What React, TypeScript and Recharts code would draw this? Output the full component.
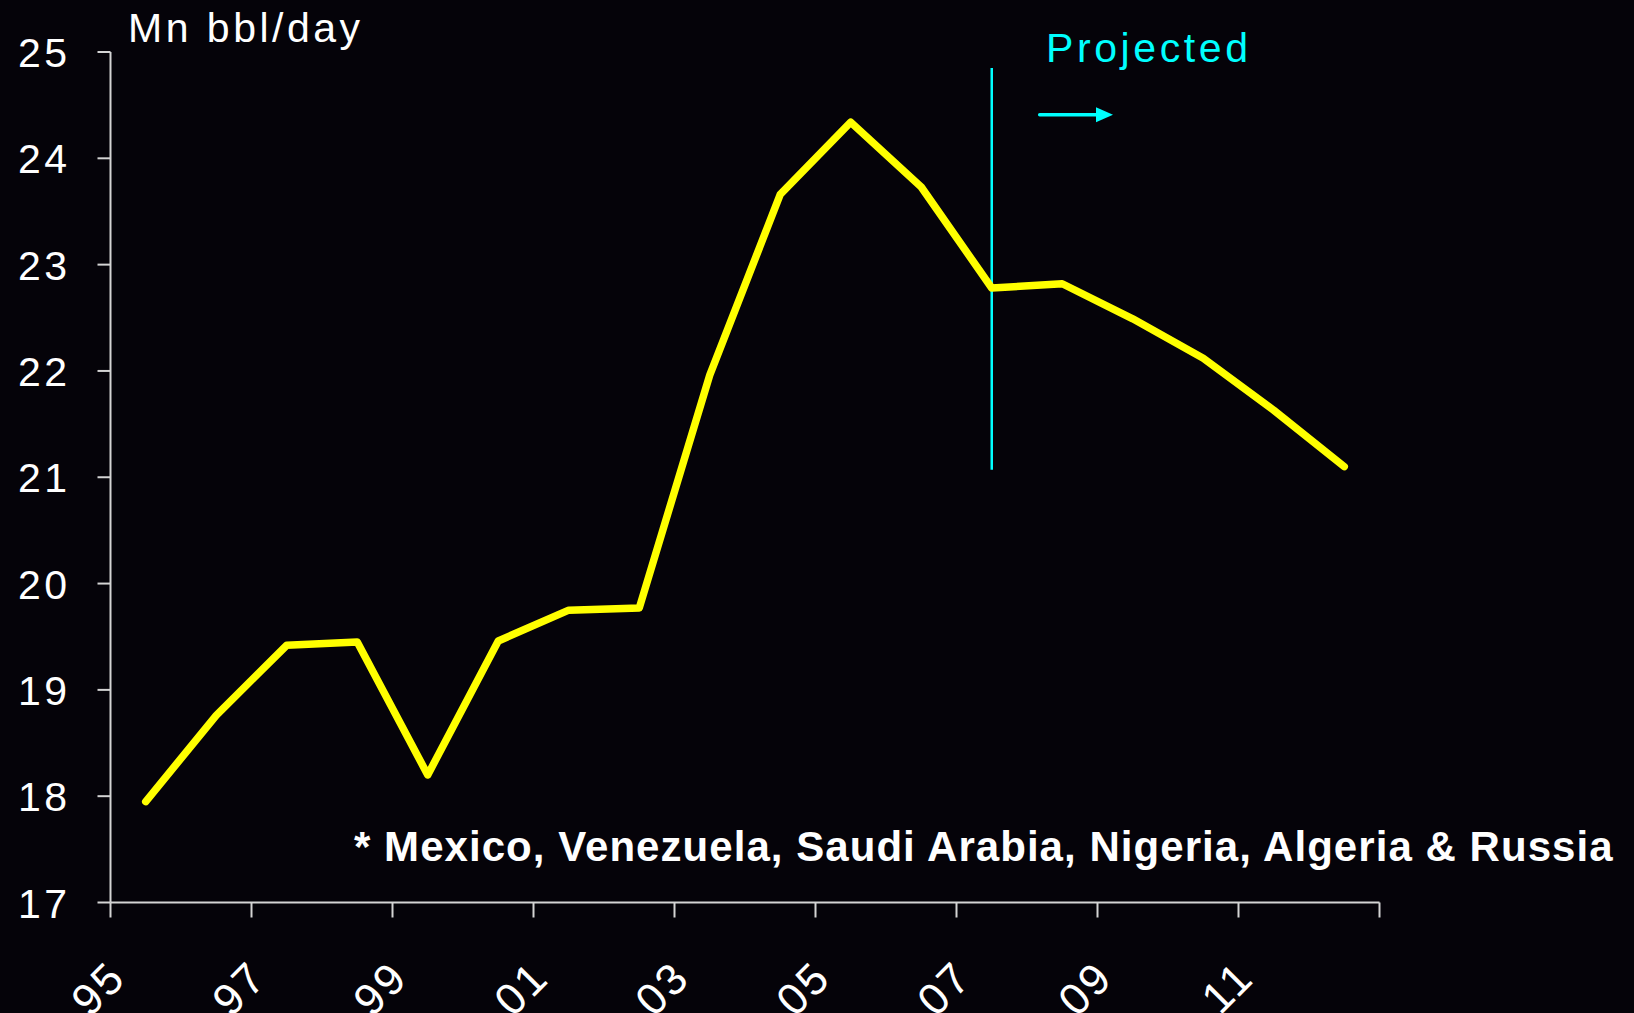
import React from 'react';
import { LineChart, Line, XAxis, YAxis, ReferenceLine } from 'recharts';

const years = ['95', '96', '97', '98', '99', '00', '01', '02', '03', '04', '05', '06', '07', '08', '09', '10', '11', '12'];
const supply = [17.95, 18.76, 19.42, 19.45, 18.2, 19.46, 19.75, 19.77, 21.96, 23.66, 24.34, 23.73, 22.78, 22.82, 22.49, 22.12, 21.63, 21.1];
const xTickLabels = ['95', '97', '99', '01', '03', '05', '07', '09', '11', ''];
const xTickPositions = [0, 2, 4, 6, 8, 10, 12, 14, 16, 18];
const yTicks = [17, 18, 19, 20, 21, 22, 23, 24, 25];

const projectionX = 12.5;
const projectionRange = [21.07, 24.85];
const arrowRange = [13.18, 14.22];
const arrowY = 24.41;

const data = years.map((y, i) => ({ x: i + 0.5, year: y, value: supply[i] }));

const BG = '#050309';
const FONT = '"Liberation Sans", Arial, sans-serif';
const AXIS = '#d4d4d4';

const YTick = (props: any) => {
  const { x, y, payload } = props;
  return (
    <text x={x + 3} y={y} dy={15} textAnchor="end" fill="#ffffff" fontFamily={FONT} fontSize={41} letterSpacing={3.5}>
      {payload.value}
    </text>
  );
};

const XTick = (props: any) => {
  const { x, y, payload } = props;
  const label = xTickLabels[Math.round(payload.value / 2)];
  const ax = x + 18;
  const ay = y + 62;
  return (
    <text x={ax} y={ay} textAnchor="end" fill="#ffffff" fontFamily={FONT} fontSize={44} letterSpacing={3}
      transform={`rotate(-45, ${ax}, ${ay})`}>
      {label}
    </text>
  );
};

const Arrow = (props: any) => {
  const { x1, y1, x2, y2 } = props;
  return (
    <g>
      <line x1={x1} y1={y1} x2={x2 - 14} y2={y2} stroke="#00ffff" strokeWidth={3.5} strokeLinecap="round" />
      <polygon points={`${x2},${y2} ${x2 - 17},${y2 - 7.5} ${x2 - 17},${y2 + 7.5}`} fill="#00ffff" />
    </g>
  );
};

export default function App() {
  return (
    <div style={{ position: 'absolute', left: 0, top: 0, width: 1634, height: 1013, background: BG, overflow: 'hidden' }}>
      <LineChart width={1634} height={1013} data={data} margin={{ top: 52, right: 254.5, bottom: 0, left: 0 }}>
        <XAxis
          type="number"
          dataKey="x"
          domain={[0, 18]}
          ticks={xTickPositions}
          interval={0}
          height={110.5}
          tickSize={15}
          tickMargin={0}
          stroke={AXIS}
          axisLine={{ stroke: AXIS, strokeWidth: 2 }}
          tickLine={{ stroke: AXIS, strokeWidth: 2 }}
          tick={<XTick />}
        />
        <YAxis
          type="number"
          domain={[17, 25]}
          ticks={yTicks}
          interval={0}
          width={110.5}
          tickSize={13}
          tickMargin={30}
          stroke={AXIS}
          axisLine={{ stroke: AXIS, strokeWidth: 2 }}
          tickLine={{ stroke: AXIS, strokeWidth: 2 }}
          tick={<YTick />}
        />
        <ReferenceLine
          segment={[{ x: projectionX, y: projectionRange[0] }, { x: projectionX, y: projectionRange[1] }]}
          stroke="#00ffff"
          strokeWidth={2.5}
          ifOverflow="visible"
        />
        <Line
          type="linear"
          dataKey="value"
          stroke="#ffff00"
          strokeWidth={7.5}
          strokeLinejoin="round"
          strokeLinecap="round"
          dot={false}
          isAnimationActive={false}
        />
        <ReferenceLine
          segment={[{ x: arrowRange[0], y: arrowY }, { x: arrowRange[1], y: arrowY }]}
          ifOverflow="visible"
          shape={<Arrow />}
        />
      </LineChart>
      <svg width={1634} height={1013} style={{ position: 'absolute', left: 0, top: 0, pointerEvents: 'none' }}>
        <text x={128} y={42} fill="#ffffff" fontFamily={FONT} fontSize={41} letterSpacing={3.5}>Mn bbl/day</text>
        <text x={1046} y={62} fill="#00ffff" fontFamily={FONT} fontSize={41} letterSpacing={3.6}>Projected</text>
        <text x={354} y={861} fill="#ffffff" fontFamily={FONT} fontSize={42} fontWeight="bold" letterSpacing={1.05}>
          * Mexico, Venezuela, Saudi Arabia, Nigeria, Algeria &amp; Russia
        </text>
      </svg>
    </div>
  );
}
